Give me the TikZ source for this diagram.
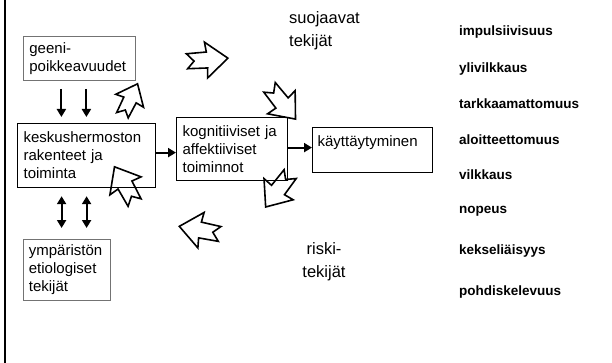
\documentclass[tikz,border=0pt]{standalone}
\usepackage{fontspec}
\setmainfont{Liberation Sans}
\usetikzlibrary{arrows.meta}

\tikzset{
  box/.style={draw, line width=1.2pt, anchor=north west, align=left,
    inner xsep=6pt, inner ysep=0pt, font=\fontsize{15}{18}\selectfont},
  graybox/.style={box, draw=black!55, line width=0.8pt},
  smallarr/.style={line width=2pt, -{Triangle[length=8pt,width=9pt]}},
  dblarr/.style={line width=2pt, {Triangle[length=8pt,width=9pt]}-{Triangle[length=8pt,width=9pt]}},
  bigtext/.style={inner sep=0pt, font=\fontsize{16.5}{23}\selectfont},
  listtxt/.style={anchor=west, inner sep=0pt, font=\fontsize{13.5}{16}\selectfont\bfseries},
  blockarr/.pic={
    \draw[line width=1.6pt, line join=miter]
      (-20,7) -- (0,8) -- (-1,18) -- (21,0) -- (-1,-18) -- (0,-8)
      -- (-20,-8) -- (-13,0) -- cycle;
  }
}

\begin{document}
\begin{tikzpicture}[x=1pt, y=-1pt]
\useasboundingbox (0,0) rectangle (612,363);

% frame line on the left
\draw[line width=2pt] (5,0) -- (5,363);

% boxes
\node[graybox, minimum width=112pt, minimum height=44pt, text width=100pt] (geeni) at (23,36) {geeni-\\poikkeavuudet};
\node[box, minimum width=138pt, minimum height=64pt, text width=126pt] (keskus) at (17,123) {keskushermoston\\rakenteet ja\\toiminta};
\node[box, minimum width=111pt, minimum height=63pt, text width=99pt] (kogn) at (176,117) {kognitiiviset ja\\affektiiviset\\toiminnot};
\node[box, minimum width=120pt, minimum height=45pt, text width=110pt, inner xsep=5pt] (kaytt) at (312,127) {käyttäytyminen\\\mbox{}};
\node[graybox, minimum width=87pt, minimum height=61pt, text width=76pt, inner xsep=5.5pt] (ymp) at (23,239) {ympäristön\\etiologiset\\tekijät};

% small arrows
\draw[smallarr, shorten <=8pt, shorten >=6pt] ([xshift=-18pt]geeni.south) -- ([xshift=-18pt]geeni.south |- keskus.north);
\draw[smallarr, shorten <=8pt, shorten >=6pt] ([xshift=7pt]geeni.south) -- ([xshift=7pt]geeni.south |- keskus.north);
\draw[dblarr, shorten <=8pt, shorten >=11pt] ([xshift=-25pt]keskus.south) -- ([xshift=-25pt]keskus.south |- ymp.north);
\draw[dblarr, shorten <=8pt, shorten >=11pt] (keskus.south) -- (keskus.south |- ymp.north);
\draw[smallarr] ([yshift=3pt]keskus.east) -- ([yshift=3pt]keskus.east -| kogn.west);
\draw[smallarr] ([yshift=1.5pt]kogn.east) -- ([yshift=1.5pt]kogn.east -| kaytt.west);

% factor labels
\node[bigtext, anchor=west, align=left] (suoj) at (289,31) {suojaavat\\tekijät};
\node[bigtext, align=center] (riski) at (324,262) {riski-\\tekijät};

% block arrows round the middle
\pic[rotate=5] at (207,60) {blockarr};
\pic[rotate=-50] at (282,103) {blockarr};
\pic[rotate=-126] at (278,190) {blockarr};
\pic[rotate=170] at (200,230) {blockarr};
\pic[rotate=120] at (125,185) {blockarr};
\pic[rotate=65, scale=0.85] at (130,100) {blockarr};

% traits
\foreach \y/\t [count=\i] in {32/impulsiivisuus, 69/ylivilkkaus, 104/tarkkaamattomuus,
  140/aloitteettomuus, 175/vilkkaus, 211/nopeus, 251/kekseliäisyys, 292/pohdiskelevuus}
  \node[listtxt] (l\i) at (459,\y) {\t};

\end{tikzpicture}
\end{document}
